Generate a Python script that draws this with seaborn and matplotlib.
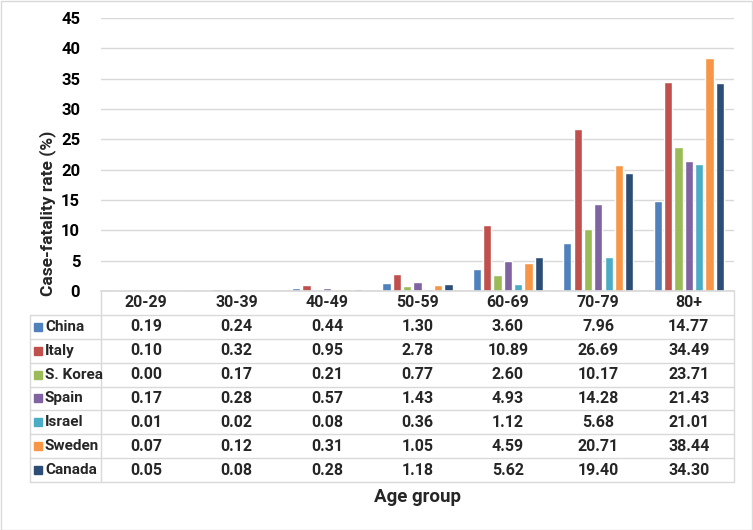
import numpy as np
import pandas as pd
import matplotlib
matplotlib.use('Agg')
import matplotlib.pyplot as plt
from matplotlib.patches import Rectangle
import seaborn as sns

age_groups = ['20-29', '30-39', '40-49', '50-59', '60-69', '70-79', '80+']
countries = ['China', 'Italy', 'S. Korea', 'Spain', 'Israel', 'Sweden', 'Canada']
china = [0.19, 0.24, 0.44, 1.30, 3.60, 7.96, 14.77]
italy = [0.10, 0.32, 0.95, 2.78, 10.89, 26.69, 34.49]
s_korea = [0.00, 0.17, 0.21, 0.77, 2.60, 10.17, 23.71]
spain = [0.17, 0.28, 0.57, 1.43, 4.93, 14.28, 21.43]
israel = [0.01, 0.02, 0.08, 0.36, 1.12, 5.68, 21.01]
sweden = [0.07, 0.12, 0.31, 1.05, 4.59, 20.71, 38.44]
canada = [0.05, 0.08, 0.28, 1.18, 5.62, 19.40, 34.30]
colors = ['#4F81BD', '#C0504D', '#9BBB59', '#8064A2', '#4BACC6', '#F79646', '#2C4D75']

series = [china, italy, s_korea, spain, israel, sweden, canada]
rows = []
for c, vals in zip(countries, series):
    for a, v in zip(age_groups, vals):
        rows.append({'age': a, 'country': c, 'cfr': v})
df = pd.DataFrame(rows)

sns.set_theme(style='white')
plt.rcParams['font.family'] = ['Roboto', 'DejaVu Sans']
plt.rcParams['font.weight'] = 'bold'

W, H = 753, 530
fig = plt.figure(figsize=(W / 100, H / 100), dpi=100)

# plot area in pixels
px_l, px_r, px_top, px_base, px_tab_bot, px_tab_l = 101, 734, 18, 291, 482, 30

ax = fig.add_axes([px_l / W, 1 - px_base / H, (px_r - px_l) / W, (px_base - px_top) / H])
sns.barplot(data=df, x='age', y='cfr', hue='country', hue_order=countries,
            order=age_groups, palette=colors, saturation=1, width=0.8, gap=0.2,
            legend=False, ax=ax)
ax.set_ylim(0, 45)
ax.set_xlim(-0.5, len(age_groups) - 0.5)
ax.set_yticks(np.arange(0, 46, 5))
ax.yaxis.grid(True, color='#D9D9D9', linewidth=1)
ax.set_axisbelow(True)
ax.tick_params(axis='y', length=0, labelsize=12, pad=15, colors='#000000')
ax.set_xticks([])
ax.set_xlabel('')
ax.set_ylabel('')
for s in ['top', 'right', 'left']:
    ax.spines[s].set_visible(False)
ax.spines['bottom'].set_color('#D9D9D9')
for lab in ax.get_yticklabels():
    lab.set_fontweight('bold')

fig.text(48 / W, 1 - 213 / H, 'Case-fatality rate (%)', rotation=90, ha='center', va='center',
         fontsize=12.5, fontweight='bold')

# data table below the plot
unit = (px_r - px_l) / len(age_groups)
x_left = -0.5 - (px_l - px_tab_l) / unit
tax = fig.add_axes([px_tab_l / W, 1 - px_tab_bot / H, (px_r - px_tab_l) / W, (px_tab_bot - px_base) / H])
tax.set_xlim(x_left, len(age_groups) - 0.5)
nrow = len(countries) + 1
tax.set_ylim(nrow, 0)
tax.axis('off')

lc = '#D9D9D9'
for k in range(1, nrow + 1):
    tax.plot([x_left, len(age_groups) - 0.5], [k, k], color=lc, lw=1, clip_on=False)
tax.plot([-0.5, -0.5], [0, nrow], color=lc, lw=1, clip_on=False)
tax.plot([x_left, x_left], [1, nrow], color=lc, lw=1, clip_on=False)
tax.plot([len(age_groups) - 0.5] * 2, [0, nrow], color=lc, lw=1, clip_on=False)

fs = 11.5
for i, a in enumerate(age_groups):
    tax.text(i, 0.5, a, ha='center', va='center', fontsize=fs, fontweight='bold')
sq = 8 / unit
for r, (c, vals, col) in enumerate(zip(countries, series, colors)):
    y = r + 1.5
    tax.add_patch(Rectangle((x_left + 4 / unit, y - 0.17), sq, 0.34, color=col, clip_on=False))
    tax.text(x_left + 15 / unit, y, c, ha='left', va='center', fontsize=11, fontweight='bold')
    for i, v in enumerate(vals):
        tax.text(i, y, f'{v:.2f}', ha='center', va='center', fontsize=fs, fontweight='bold')

fig.text((px_l + px_r) / 2 / W, 1 - 497 / H, 'Age group', ha='center', va='center',
         fontsize=13.5, fontweight='bold')

fig.patches.append(Rectangle((0.5 / W, 0.5 / H), 1 - 1.5 / W, 1 - 1.5 / H, transform=fig.transFigure,
                             fill=False, edgecolor='#D9D9D9', lw=1))

fig.savefig('out.png', dpi=100)
